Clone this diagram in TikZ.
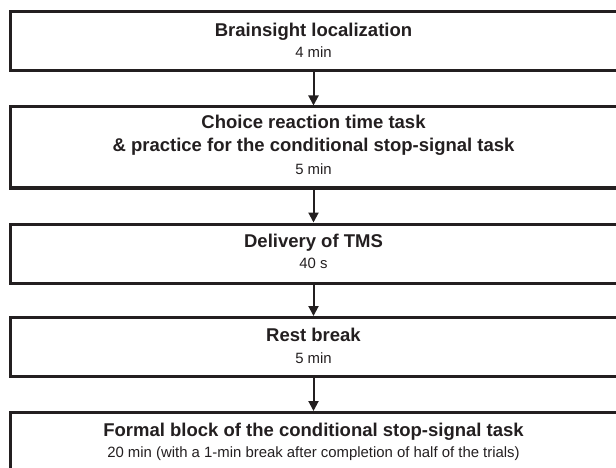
\documentclass[tikz,border=0pt]{standalone}
\usepackage{fontspec}
\setmainfont{Liberation Sans}
\usetikzlibrary{arrows.meta}
\definecolor{ink}{HTML}{231F20}
\begin{document}
\begin{tikzpicture}[x=1pt,y=-1pt,
  box/.style={draw=ink, line width=3pt, minimum width=609pt, inner sep=0pt, anchor=north},
  ttl/.style={font=\fontsize{18.5}{22}\selectfont\bfseries, text=ink, anchor=base, inner sep=0pt},
  sub/.style={font=\fontsize{14.9}{17}\selectfont, text=ink, anchor=base, inner sep=0pt},
  flow/.style={draw=ink, line width=2pt, -{Triangle[width=10pt,length=10pt]}}]
\useasboundingbox (0,0) rectangle (616,468);
\clip (0,0) rectangle (616,468);

\node[box, minimum height=59pt] (b1) at (315,10.5) {};
\node[box, minimum height=81pt] (b2) at (315,105.5) {};
\node[box, minimum height=59pt] (b3) at (315,222.5) {};
\node[box, minimum height=59pt] (b4) at (315,316) {};
\node[box, minimum height=59pt] (b5) at (315,411) {};

\node[ttl] (t1) at (313.5,36.7) {Brainsight localization};
\node[sub] (s1) at (313.5,57.3) {4 min};

\node[ttl] (t2a) at (313.5,129) {Choice reaction time task};
\node[ttl] (t2b) at (313.5,151.5) {\& practice for the conditional stop-signal task};
\node[sub] (s2) at (313.5,175) {5 min};

\node[ttl] (t3) at (313.5,247.5) {Delivery of TMS};
\node[sub] (s3) at (313.5,268.5) {40 s};

\node[ttl] (t4) at (313.5,341.7) {Rest break};
\node[sub] (s4) at (313.5,363.3) {5 min};

\node[ttl] (t5) at (313.5,436.7) {Formal block of the conditional stop-signal task};
\node[sub] (s5) at (313.5,457.3) {20 min (with a 1-min break after completion of half of the trials)};

\draw[flow] (b1.south -| s1.base) -- (b2.north -| s1.base);
\draw[flow] (b2.south -| s2.base) -- (b3.north -| s2.base);
\draw[flow] (b3.south -| s3.base) -- (b4.north -| s3.base);
\draw[flow] (b4.south -| s4.base) -- (b5.north -| s4.base);
\end{tikzpicture}
\end{document}
